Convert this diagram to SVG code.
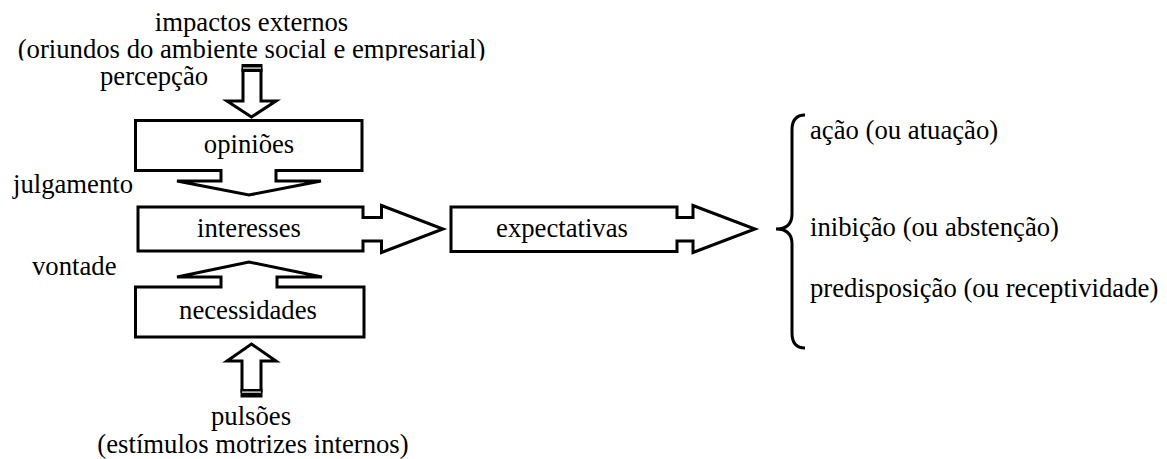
<svg xmlns="http://www.w3.org/2000/svg" width="1167" height="459" viewBox="0 0 1167 459" font-family="'Liberation Serif', 'Times New Roman', Tinos, 'DejaVu Serif', serif" font-size="26.7">
<style>
.c{text-anchor:middle}
.s{fill:#fff;stroke:#000;stroke-width:3;stroke-linejoin:miter}
.br{fill:none;stroke:#000;stroke-width:3}
</style>
<defs>
<clipPath id="clipTop"><rect x="0" y="0" width="600" height="60.5"/></clipPath>
</defs>
<rect width="1167" height="459" fill="#fff"/>
<g id="labels-top">
<text class="c" x="251.5" y="31">impactos externos</text>
<text class="c" x="251.5" y="57.5" clip-path="url(#clipTop)">(oriundos do ambiente social e empresarial)</text>
<text x="100" y="85">percepção</text>
</g>
<g id="connectors">
<g id="arrow-top">
<path class="s" d="M243,70 H261 V101 H276 L251.5,117 L227,101 H243 Z"/>
<rect x="241.5" y="64" width="21" height="8" fill="#000"/>
<rect x="243" y="67.5" width="18" height="1.2" fill="#fff"/>
</g>
<g id="arrow-bottom">
<path class="s" d="M242,391 H261 V361 H276 L251.5,344 L227,361 H242 Z"/>
<rect x="240.5" y="389" width="22" height="8.5" fill="#000"/>
<rect x="242" y="391.5" width="19" height="1.2" fill="#fff"/>
</g>
</g>
<g id="node-opinioes">
<path class="s" d="M135.5,120.5 H362 V170.5 H276 V181 H321 L249,195 L177,181 H221 V170.5 H135.5 Z"/>
<text class="c" x="249" y="153">opiniões</text>
</g>
<g id="node-interesses">
<path class="s" d="M138,207 H363 V217.5 H381.5 V205.5 L443,229 L381.5,252.5 V241 H363 V251 H138 Z"/>
<text class="c" x="249" y="237">interesses</text>
</g>
<g id="node-necessidades">
<path class="s" d="M135.5,287 H221 V277 H177 L249,262 L322,277 H277 V287 H364 V337 H135.5 Z"/>
<text class="c" x="248" y="319">necessidades</text>
</g>
<g id="node-expectativas">
<path class="s" d="M451,207 H677 V217.5 H693 V205.5 L755,229 L693,252.5 V241 H677 V251.5 H451 Z"/>
<text class="c" x="562" y="237">expectativas</text>
</g>
<g id="labels-left">
<text x="13" y="193">julgamento</text>
<text x="32" y="275">vontade</text>
</g>
<g id="labels-bottom">
<text class="c" x="251" y="425">pulsões</text>
<text class="c" x="253" y="453">(estímulos motrizes internos)</text>
</g>
<g id="brace">
<path class="br" d="M805,115 Q792,115 792,130 V214 Q792,229 776,229 Q792,229 792,244 V333 Q792,348 805,348"/>
</g>
<g id="outcomes">
<text x="810" y="139">ação (ou atuação)</text>
<text x="810" y="236">inibição (ou abstenção)</text>
<text x="810" y="297">predisposição (ou receptividade)</text>
</g>
</svg>
